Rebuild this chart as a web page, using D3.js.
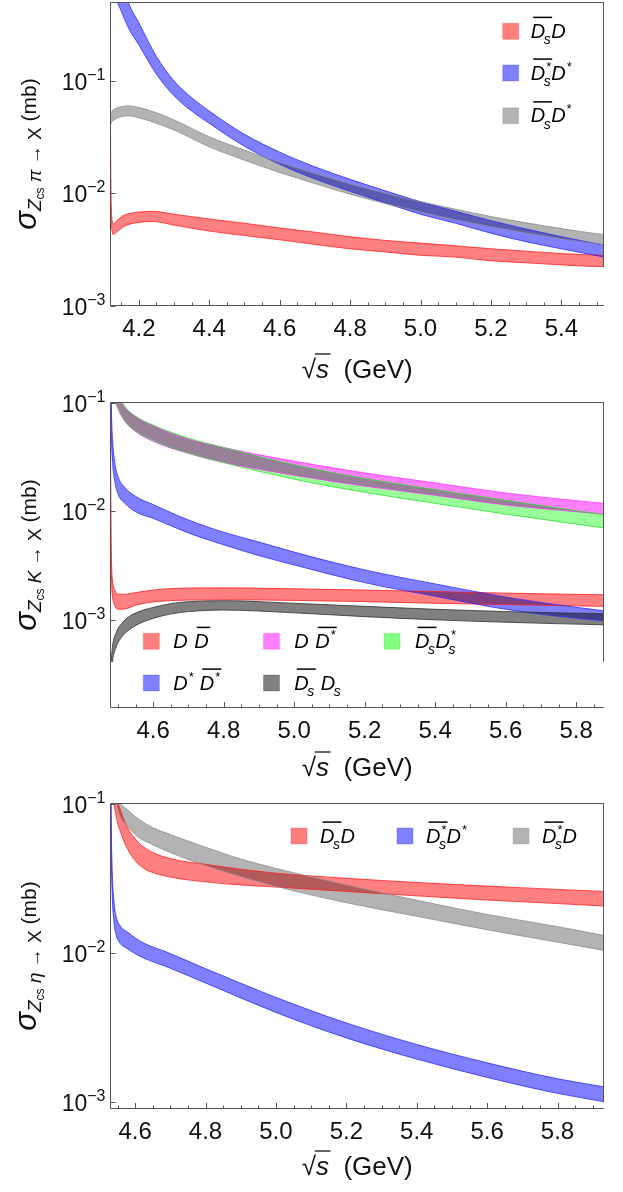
<!DOCTYPE html>
<html><head><meta charset="utf-8">
<script src="https://cdn.jsdelivr.net/npm/d3@7"></script>
<style>
body{margin:0;background:#fff}
svg{display:block;font-family:"Liberation Sans",Arial,"DejaVu Sans",sans-serif}
</style>
</head><body>
<svg id="c" width="623" height="1192"></svg>
<script>
// ---------------- DATA ----------------
// Panel 1: Zcs pi -> X
const pi_DsD_x  = [4.1196,4.1205,4.123,4.127,4.14,4.16,4.2,4.24,4.3,4.4,4.5,4.6,4.7,4.8,4.9,5.0,5.1,5.2,5.3,5.4,5.521];
const pi_DsD_hi = [0.045,0.012,0.0062,0.0053,0.0058,0.0064,0.0068,0.0069,0.0065,0.0059,0.0054,0.0049,0.0045,0.0041,0.0038,0.0036,0.0034,0.0032,0.00305,0.0029,0.0028];
const pi_DsD_lo = [0.030,0.008,0.0049,0.0043,0.0046,0.0051,0.0055,0.0056,0.0052,0.0046,0.0042,0.00385,0.0035,0.0032,0.0030,0.0028,0.0027,0.0025,0.0024,0.0023,0.0022];

const pi_DssDs_x  = [4.1196,4.125,4.135,4.15,4.17,4.2,4.25,4.3,4.35,4.4,4.5,4.6,4.7,4.8,4.9,5.0,5.1,5.2,5.3,5.4,5.521];
const pi_DssDs_hi = [8,2.0,1.1,0.75,0.5,0.33,0.165,0.1,0.071,0.054,0.0335,0.0232,0.0172,0.0133,0.0105,0.0084,0.0069,0.0057,0.0048,0.0041,0.00345];
const pi_DssDs_lo = [2,0.75,0.55,0.42,0.30,0.21,0.115,0.074,0.054,0.042,0.0262,0.0181,0.0134,0.0104,0.0082,0.0065,0.0054,0.0044,0.0037,0.0032,0.0027];

const pi_DsDst_x  = [4.1196,4.121,4.13,4.15,4.17,4.2,4.25,4.3,4.4,4.5,4.6,4.7,4.8,4.9,5.0,5.1,5.2,5.3,5.4,5.521];
const pi_DsDst_hi = [0.048,0.052,0.056,0.059,0.060,0.058,0.052,0.045,0.0318,0.0242,0.0188,0.0150,0.0121,0.0100,0.0084,0.0072,0.0062,0.00545,0.00484,0.00427];
const pi_DsDst_lo = [0.040,0.042,0.045,0.048,0.049,0.047,0.042,0.0366,0.0259,0.0197,0.0153,0.0122,0.0098,0.0081,0.0068,0.0058,0.00504,0.00443,0.00394,0.00347];

// Panel 2: Zcs K -> X
const K_DDb_x  = [4.4792,4.4805,4.484,4.49,4.5,4.52,4.55,4.6,4.7,4.8,5.0,5.2,5.4,5.6,5.879];
const K_DDb_hi = [0.045,0.006,0.0024,0.0019,0.00172,0.00172,0.00178,0.00188,0.00196,0.00197,0.00193,0.00188,0.00182,0.00176,0.0017];
const K_DDb_lo = [0.020,0.004,0.0017,0.00138,0.00125,0.00126,0.00136,0.00146,0.00152,0.00153,0.00151,0.00147,0.00142,0.00138,0.00133];

const K_DDbs_x  = [4.4792,4.485,4.49,4.5,4.51,4.52,4.55,4.6,4.7,4.8,4.9,5.0,5.2,5.4,5.6,5.8,5.879];
const K_DDbs_hi = [0.5,0.25,0.18,0.125,0.10,0.09,0.074,0.061,0.046,0.0385,0.033,0.0288,0.0225,0.0182,0.0147,0.0125,0.0118];
const K_DDbs_lo = [0.3,0.15,0.11,0.088,0.075,0.067,0.054,0.044,0.034,0.0281,0.0243,0.0214,0.0170,0.0140,0.0114,0.0099,0.0094];

const K_DsDss_x  = [4.4792,4.485,4.49,4.5,4.51,4.52,4.55,4.6,4.7,4.8,4.9,5.0,5.2,5.4,5.6,5.8,5.879];
const K_DsDss_hi = [0.5,0.26,0.19,0.13,0.105,0.092,0.075,0.062,0.047,0.0385,0.0318,0.0267,0.0200,0.0158,0.0126,0.0101,0.0093];
const K_DsDss_lo = [0.3,0.16,0.115,0.09,0.077,0.068,0.055,0.045,0.0343,0.0280,0.0233,0.0197,0.0149,0.0118,0.0094,0.0076,0.0070];

const K_DsDbs_x  = [4.4792,4.4815,4.485,4.49,4.5,4.52,4.55,4.6,4.7,4.8,4.9,5.0,5.2,5.4,5.6,5.879];
const K_DsDbs_hi = [0.3,0.09,0.045,0.030,0.021,0.0165,0.0137,0.0115,0.0083,0.0064,0.0052,0.0042,0.00288,0.00214,0.00162,0.00121];
const K_DsDbs_lo = [0.15,0.05,0.028,0.020,0.0145,0.0118,0.0099,0.0086,0.0063,0.0049,0.0039,0.0032,0.0022,0.00165,0.00125,0.00098];

const K_DsbDs_x  = [4.4792,4.485,4.495,4.51,4.53,4.56,4.6,4.7,4.8,5.0,5.2,5.4,5.6,5.879];
const K_DsbDs_hi = [0.00035,0.00058,0.00076,0.00092,0.00106,0.00119,0.0013,0.00147,0.0015,0.00142,0.00133,0.00125,0.00119,0.00114];
const K_DsbDs_lo = [0.00025,0.00042,0.00056,0.00069,0.0008,0.00092,0.00103,0.00119,0.00123,0.00116,0.00107,0.0010,0.00095,0.0009];

// Panel 3: Zcs eta -> X
const eta_DsD_x  = [4.5302,4.535,4.545,4.56,4.58,4.6,4.625,4.65,4.7,4.8,4.9,5.0,5.2,5.4,5.6,5.8,5.932];
const eta_DsD_hi = [0.5,0.2,0.12,0.088,0.068,0.058,0.051,0.047,0.0428,0.0392,0.0363,0.0342,0.0316,0.0296,0.0280,0.0266,0.0258];
const eta_DsD_lo = [0.3,0.13,0.085,0.063,0.049,0.0415,0.0368,0.0345,0.0322,0.0299,0.0285,0.0276,0.0258,0.0241,0.0226,0.0214,0.0206];

const eta_DssDs_x  = [4.5302,4.532,4.535,4.54,4.545,4.555,4.58,4.6,4.7,4.8,4.9,5.0,5.2,5.4,5.6,5.8,5.932];
const eta_DssDs_hi = [0.5,0.08,0.035,0.022,0.018,0.0155,0.0137,0.0126,0.0099,0.00785,0.00627,0.00504,0.0034,0.00244,0.00184,0.00144,0.00127];
const eta_DssDs_lo = [0.3,0.05,0.024,0.016,0.0135,0.0118,0.0106,0.0099,0.0079,0.0063,0.0050,0.0040,0.0027,0.00195,0.00147,0.00115,0.00101];

const eta_DssD_x  = [4.5302,4.54,4.555,4.58,4.6,4.65,4.7,4.8,4.9,5.0,5.2,5.4,5.6,5.8,5.932];
const eta_DssD_hi = [0.5,0.2,0.105,0.090,0.082,0.069,0.062,0.051,0.0425,0.0368,0.0285,0.0225,0.0181,0.0150,0.0131];
const eta_DssD_lo = [0.3,0.14,0.085,0.070,0.062,0.053,0.047,0.0385,0.0325,0.0279,0.0217,0.0176,0.0143,0.0118,0.0104];

// axis ticks
const yTickVals = [1e-3, 1e-2, 1e-1];
const yTickExp  = ["\u22123", "\u22122", "\u22121"];
const xMajor1 = [4.2,4.4,4.6,4.8,5.0,5.2,5.4];
const xMajor2 = [4.6,4.8,5.0,5.2,5.4,5.6,5.8];
const xMajor3 = [4.6,4.8,5.0,5.2,5.4,5.6,5.8];

// legend labels: parts {b: base, sub, sup, bar}; " " = gap
const L_DsD    = [{b:"D",sub:"s",bar:true},{b:"D"}];
const L_DssDs  = [{b:"D",sub:"s",sup:"*",bar:true},{b:"D",sup:"*"}];
const L_DsDst  = [{b:"D",sub:"s",bar:true},{b:"D",sup:"*"}];
const L_DDb    = [{b:"D"}," ",{b:"D",bar:true}];
const L_DDbs   = [{b:"D"}," ",{b:"D",sup:"*",bar:true}];
const L_DsDss  = [{b:"D",sub:"s",bar:true},{b:"D",sub:"s",sup:"*"}];
const L_DsDbs  = [{b:"D",sup:"*"}," ",{b:"D",sup:"*",bar:true}];
const L_DsbDs  = [{b:"D",sub:"s",bar:true}," ",{b:"D",sub:"s"}];
const L_DssD   = [{b:"D",sub:"s",sup:"*",bar:true},{b:"D"}];

// ---------------- STYLE ----------------
const COL = {
  red:    {fill:"#ff8080", op:1,   edge:"#ff2020", leg:"#ff7f7f"},
  blue:   {fill:"#8080ff", op:1,   edge:"#2a2aff", leg:"#7f7fff"},
  gray:   {fill:"#b3b3b3", op:1,   edge:"#8c8c8c", leg:"#b3b3b3"},
  dgray:  {fill:"#808080", op:1,   edge:"#303030", leg:"#808080"},
  mag:    {fill:"#ff80ff", op:1,   edge:"#ff30ff", leg:"#ff80ff"},
  green:  {fill:"#80ff80", op:0.8, edge:"#30dd30", leg:"#80ff80"}
};
const AX = "#555";

const svg = d3.select("#c");
svg.append("rect").attr("width",623).attr("height",1192).attr("fill","#fff");
const meas = svg.append("text").attr("x",-500).attr("y",-500).attr("font-style","italic");
function tw(s, fs){ meas.attr("font-size",fs).text(s); return meas.node().getComputedTextLength(); }

function mk(x,hi,lo){ return x.map((v,i)=>({x:v,hi:hi[i],lo:lo[i]})); }

const panels = [
  {id:1, proc:"\u03c0", xDom:[4.1196,5.521], yDom:[1e-3,0.5], L:110.5, R:604, T:2.5, B:305.5, rangeMin:0.0022,
   majors:xMajor1, titleY:378,
   series:[
     {d:mk(pi_DsD_x,pi_DsD_hi,pi_DsD_lo), c:"red"},
     {d:mk(pi_DssDs_x,pi_DssDs_hi,pi_DssDs_lo), c:"blue"},
     {d:mk(pi_DsDst_x,pi_DsDst_hi,pi_DsDst_lo), c:"gray"}],
   legend:[
     {c:"red",  sx:502.7, cy:31.3, tx:530.7, lab:L_DsD},
     {c:"blue", sx:502.7, cy:73,   tx:530.7, lab:L_DssDs},
     {c:"gray", sx:502.7, cy:115.8,tx:530.7, lab:L_DsDst}]},
  {id:2, proc:"K", xDom:[4.479,5.879], yDom:[1.56e-4,0.1], L:110.5, R:604, T:402.5, B:707.5, rangeMin:0.00041,
   majors:xMajor2, titleY:776,
   series:[
     {d:mk(K_DDb_x,K_DDb_hi,K_DDb_lo), c:"red"},
     {d:mk(K_DDbs_x,K_DDbs_hi,K_DDbs_lo), c:"mag"},
     {d:mk(K_DsDss_x,K_DsDss_hi,K_DsDss_lo), c:"green"},
     {d:mk(K_DsDbs_x,K_DsDbs_hi,K_DsDbs_lo), c:"blue"},
     {d:mk(K_DsbDs_x,K_DsbDs_hi,K_DsbDs_lo), c:"dgray"}],
   legend:[
     {c:"red",   sx:143.3, cy:641.3, tx:173.3, lab:L_DDb},
     {c:"mag",   sx:263.5, cy:641.3, tx:294.3, lab:L_DDbs},
     {c:"green", sx:384,   cy:641.3, tx:415,   lab:L_DsDss},
     {c:"blue",  sx:143.3, cy:683,   tx:173.3, lab:L_DsDbs},
     {c:"dgray", sx:263.5, cy:683,   tx:294.3, lab:L_DsbDs}]},
  {id:3, proc:"\u03b7", xDom:[4.53,5.932], yDom:[9.1e-4,0.1], L:110.5, R:604, T:803.5, B:1108.5, rangeMin:0.001,
   majors:xMajor3, titleY:1175,
   series:[
     {d:mk(eta_DsD_x,eta_DsD_hi,eta_DsD_lo), c:"red"},
     {d:mk(eta_DssDs_x,eta_DssDs_hi,eta_DssDs_lo), c:"blue"},
     {d:mk(eta_DssD_x,eta_DssD_hi,eta_DssD_lo), c:"gray"}],
   legend:[
     {c:"red",  sx:291, cy:836, tx:320, lab:L_DsD},
     {c:"blue", sx:397, cy:836, tx:426, lab:L_DssDs},
     {c:"gray", sx:513, cy:836, tx:542, lab:L_DssD}]}
];

// one text element per legend label; tspans placed absolutely
function drawLabel(g, x, y, parts, fs){
  const t = g.append("text").attr("font-size",fs).attr("font-style","italic").attr("fill","#000");
  let cx = x;
  const supFs = fs*0.65, subFs = fs*0.7;
  parts.forEach(p=>{
    if (p === " ") { cx += fs*0.3; return; }
    t.append("tspan").attr("x",cx).attr("y",y).text(p.b);
    const w = tw(p.b, fs);
    let ex = 0;
    if (p.sup){
      t.append("tspan").attr("x",cx+w+0.5).attr("y",y-fs*0.45).attr("font-size",supFs).text(p.sup);
      ex = Math.max(ex, tw(p.sup, supFs)+0.5);
    }
    if (p.sub){
      t.append("tspan").attr("x",cx+w-1.5).attr("y",y+fs*0.33).attr("font-size",subFs).text(p.sub);
      ex = Math.max(ex, tw(p.sub, subFs)-1.5);
    }
    const total = w + ex;
    if (p.bar){
      const by = y - fs*1.02;
      g.append("line").attr("x1",cx+2.5).attr("x2",cx+total+1.5).attr("y1",by).attr("y2",by)
        .attr("stroke","#000").attr("stroke-width",1.5);
    }
    cx += total + 0.5;
  });
}

panels.forEach(P=>{
  const g = svg.append("g");
  const xs = d3.scaleLinear().domain(P.xDom).range([P.L,P.R]);
  const ys = d3.scaleLog().domain(P.yDom).range([P.B,P.T]);
  const clipB = ys(P.rangeMin);

  const cid = "clip"+P.id;
  svg.append("clipPath").attr("id",cid).append("rect")
    .attr("x",P.L).attr("y",P.T).attr("width",P.R-P.L).attr("height",clipB-P.T);

  const bands = g.append("g").attr("clip-path",`url(#${cid})`);
  const area = d3.area().x(d=>xs(d.x)).y0(d=>ys(d.lo)).y1(d=>ys(d.hi)).curve(d3.curveMonotoneX);
  const lineHi = d3.line().x(d=>xs(d.x)).y(d=>ys(d.hi)).curve(d3.curveMonotoneX);
  const lineLo = d3.line().x(d=>xs(d.x)).y(d=>ys(d.lo)).curve(d3.curveMonotoneX);
  P.series.forEach(s=>{
    bands.append("path").attr("d",area(s.d)).attr("fill",COL[s.c].fill)
      .attr("fill-opacity",COL[s.c].op).style("mix-blend-mode","multiply");
  });
  P.series.forEach(s=>{
    [lineHi,lineLo].forEach(fn=>{
      bands.append("path").attr("d",fn(s.d)).attr("fill","none")
        .attr("stroke",COL[s.c].edge).attr("stroke-width",1).attr("stroke-opacity",0.8);
    });
  });

  // frame
  const ax = g.append("g").attr("stroke",AX).attr("stroke-width",1).attr("fill","none");
  ax.append("line").attr("x1",P.L).attr("x2",P.R).attr("y1",P.T).attr("y2",P.T);
  ax.append("line").attr("x1",P.R-0.5).attr("x2",P.R-0.5).attr("y1",P.T).attr("y2",clipB);
  ax.append("line").attr("x1",P.L).attr("x2",P.L).attr("y1",P.T).attr("y2",P.B);
  ax.append("line").attr("x1",P.L).attr("x2",P.R).attr("y1",P.B).attr("y2",P.B);

  // x ticks (major 0.2, minor 0.05)
  const lo = Math.ceil(P.xDom[0]/0.05-1e-6), hi = Math.floor(P.xDom[1]/0.05+1e-6);
  d3.range(lo,hi+1).forEach(k=>{
    const v = k*0.05;
    const major = P.majors.some(m=>Math.abs(m-v)<1e-6);
    const x = Math.round(xs(v))+0.5;
    ax.append("line").attr("x1",x).attr("x2",x).attr("y1",P.B).attr("y2",P.B-(major?5.5:3));
  });
  P.majors.forEach(m=>{
    g.append("text").attr("x",xs(m)).attr("y",P.B+30).attr("text-anchor","middle")
      .attr("font-size",24).attr("fill","#111").text(m.toFixed(1));
  });

  // y ticks
  yTickVals.forEach((v,i)=>{
    const y = Math.round(ys(v))+0.5;
    ax.append("line").attr("x1",P.L).attr("x2",P.L+5).attr("y1",y).attr("y2",y);
    const t = g.append("text").attr("x",105.5).attr("y",y+8.5).attr("text-anchor","end")
      .attr("font-size",23).attr("fill","#111");
    t.append("tspan").text("10");
    t.append("tspan").attr("font-size",16).attr("dy",-10).text(yTickExp[i]);
  });

  // x title
  const xt = g.append("text").attr("x",(P.L+P.R)/2).attr("y",P.titleY).attr("text-anchor","middle")
    .attr("font-size",26).attr("fill","#111");
  xt.append("tspan").text("\u221a");
  xt.append("tspan").attr("font-style","italic").text("s");
  xt.append("tspan").text("\u00a0\u00a0(GeV)");
  const e0 = xt.node().getExtentOfChar(0), e1 = xt.node().getExtentOfChar(1);
  const oy = P.titleY - 24;
  g.append("line").attr("x1",e0.x+e0.width-1.2).attr("x2",e1.x+e1.width+1.5)
    .attr("y1",oy).attr("y2",oy).attr("stroke","#111").attr("stroke-width",1.3);

  // y title
  const yc = (P.T+P.B)/2;
  const yt = g.append("text").attr("transform",`translate(36,${yc}) rotate(-90)`)
    .attr("text-anchor","middle").attr("fill","#111");
  yt.append("tspan").attr("font-size",31).attr("font-style","italic").text("\u03c3");
  yt.append("tspan").attr("font-size",19).attr("font-style","italic").attr("dy",5).text("Z");
  yt.append("tspan").attr("font-size",12).attr("dy",3).text("cs");
  yt.append("tspan").attr("font-size",19).attr("dy",-3).attr("font-style","italic").text("\u00a0"+P.proc);
  yt.append("tspan").attr("font-size",19).text("\u00a0\u2192\u00a0X");
  yt.append("tspan").attr("font-size",21).attr("dy",-5).text("\u00a0(mb)");

  // legend
  P.legend.forEach(l=>{
    const c = COL[l.c];
    g.append("rect").attr("x",l.sx).attr("y",l.cy-8).attr("width",16).attr("height",16)
      .attr("fill",c.leg).attr("stroke",c.edge).attr("stroke-opacity",0.25);
    drawLabel(g, l.tx, l.cy+6.5, l.lab, 20);
  });
});
meas.remove();
</script>
</body></html>
